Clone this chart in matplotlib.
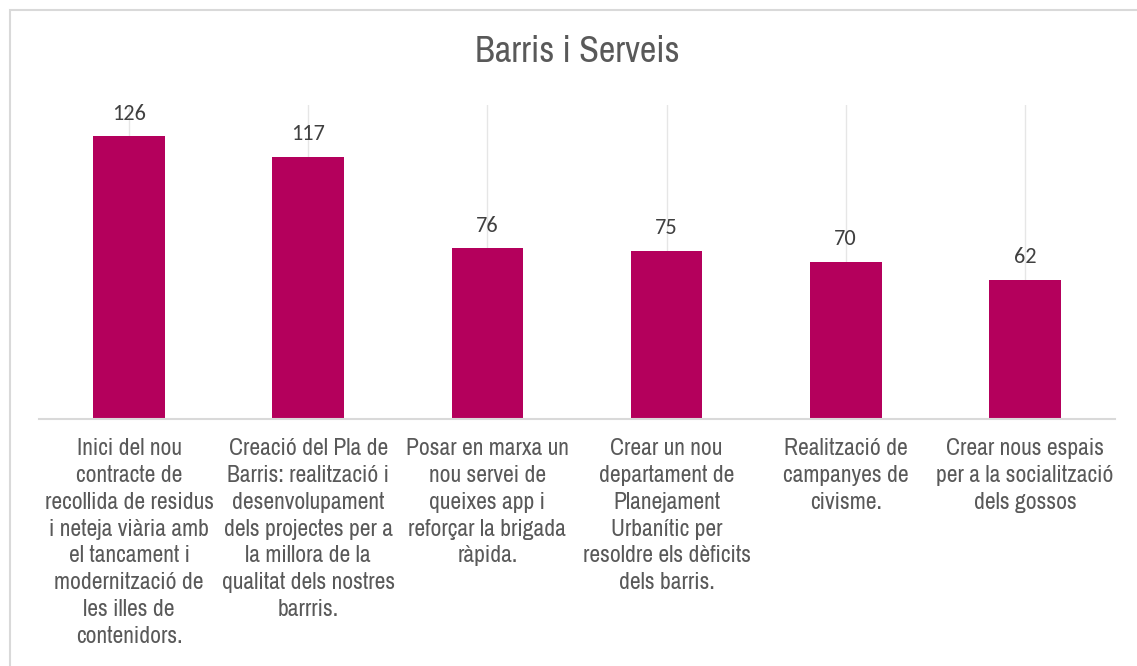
import matplotlib
matplotlib.use('Agg')
import matplotlib.pyplot as plt
from matplotlib.patches import Rectangle

# data
categories = [
    "Inici del nou\ncontracte de\nrecollida de residus\ni neteja viària amb\nel tancament i\nmodernització de\nles illes de\ncontenidors.",
    "Creació del Pla de\nBarris: realització i\ndesenvolupament\ndels projectes per a\nla millora de la\nqualitat dels nostres\nbarrris.",
    "Posar en marxa un\nnou servei de\nqueixes app i\nreforçar la brigada\nràpida.",
    "Crear un nou\ndepartament de\nPlanejament\nUrbanític per\nresoldre els dèficits\ndels barris.",
    "Realització de\ncampanyes de\ncivisme.",
    "Crear nous espais\nper a la socialització\ndels gossos",
]
values = [126, 117, 76, 75, 70, 62]
title = "Barris i Serveis"

bar_color = '#B4005C'
narrow = ['Archivo Narrow', 'Roboto Condensed', 'DejaVu Sans']
calibri = ['Carlito', 'Lato', 'DejaVu Sans']

fig = plt.figure(figsize=(11.37, 6.66), dpi=100)
W, H = 1137, 666

# chart area border (only top and left visible in the crop)
fig.patches.append(Rectangle((10 / W, -0.1), 1.2, 1 - 9.5 / H + 0.1,
                             transform=fig.transFigure, fill=False,
                             edgecolor='#D9D9D9', linewidth=1.5))

ax = fig.add_axes([39.5 / W, 1 - 418.5 / H, 1075 / W, 313.5 / H])
x = list(range(len(values)))
ax.bar(x, values, width=0.4, color=bar_color, zorder=2)
ax.set_xlim(-0.5, len(values) - 0.5)
ax.set_ylim(0, 140)

for xi in x:
    ax.axvline(xi, color='#E6E6E6', linewidth=1, zorder=1)

for xi, v in zip(x, values):
    ax.annotate(str(v), (xi, v), xytext=(0, 9), textcoords='offset points',
                ha='center', va='bottom', fontsize=16, color='#404040',
                family=calibri)

for s in ['top', 'left', 'right']:
    ax.spines[s].set_visible(False)
ax.spines['bottom'].set_color('#D9D9D9')
ax.spines['bottom'].set_linewidth(1.5)
ax.set_yticks([])
ax.set_xticks(x)
ax.set_xticklabels(categories, fontsize=17, color='#595959', family=narrow,
                   linespacing=1.345, va='top')
ax.tick_params(axis='x', length=0, pad=14)

fig.text(577 / W, 1 - 52 / H, title, ha='center', va='center', fontsize=26,
         color='#595959', family=narrow)

fig.savefig('out.png', dpi=100)
